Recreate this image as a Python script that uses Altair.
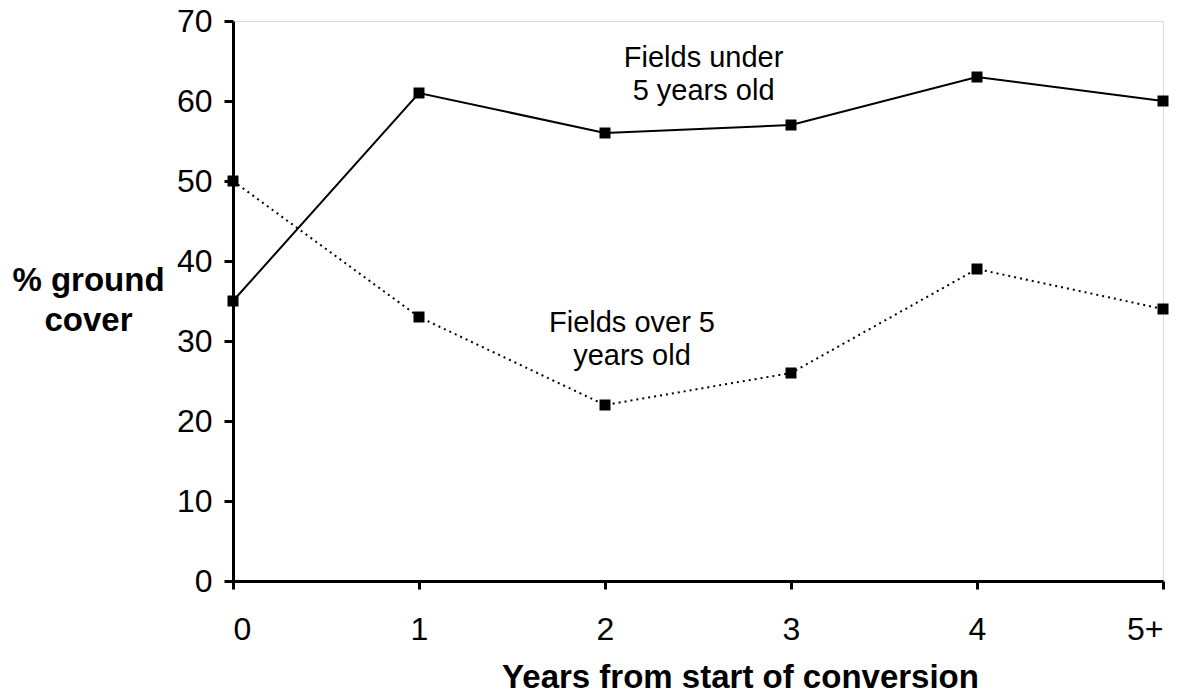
import altair as alt
import pandas as pd

# Data
year_labels = ["0", "1", "2", "3", "4", "5+"]
under_5 = [35, 61, 56, 57, 63, 60]   # Fields under 5 years old (solid)
over_5 = [50, 33, 22, 26, 39, 34]    # Fields over 5 years old (dotted)

# Annotation texts and their positions in data units
ann_text = ["Fields under\n5 years old", "Fields over 5\nyears old"]
ann_x = [2.53, 2.145]
ann_y = [64.2, 31.1]

FONT = "Liberation Sans"

idx = list(range(len(year_labels)))
df = pd.DataFrame({
    "idx": idx * 2,
    "year": year_labels * 2,
    "cover": under_5 + over_5,
    "series": ["under"] * len(idx) + ["over"] * len(idx),
})
ann = pd.DataFrame({"x": ann_x, "y": ann_y, "t": ann_text})

label_expr = "[" + ",".join("'%s'" % s for s in year_labels) + "][datum.value]"

x_enc = alt.X(
    "idx:Q",
    scale=alt.Scale(domain=[0, len(year_labels) - 1], nice=False, zero=False),
    axis=alt.Axis(
        values=idx,
        labelExpr=label_expr,
        title="Years from start of conversion",
        titleFontWeight="bold",
        titleFontSize=33,
        titleFont=FONT,
        titleX=507,
        titleY=106,
        titleAlign="center",
        titleBaseline="alphabetic",
        labelFontSize=32,
        labelFont=FONT,
        labelPadding=25,
        labelColor="black",
        titleColor="black",
        tickSize=8,
        tickWidth=3,
        tickColor="black",
        domainColor="black",
        domainWidth=3,
        grid=False,
    ),
)
y_enc = alt.Y(
    "cover:Q",
    scale=alt.Scale(domain=[0, 70], nice=False),
    axis=alt.Axis(
        values=[0, 10, 20, 30, 40, 50, 60, 70],
        title=["% ground", "cover"],
        titleAngle=0,
        titleFontWeight="bold",
        titleFontSize=33,
        titleFont=FONT,
        titleX=-145,
        titleY=269,
        titleAlign="center",
        titleBaseline="alphabetic",
        titleLineHeight=40,
        labelFontSize=32,
        labelFont=FONT,
        labelPadding=12,
        labelColor="black",
        titleColor="black",
        tickSize=9,
        tickWidth=3,
        tickColor="black",
        domainColor="black",
        domainWidth=3,
        grid=False,
    ),
)

solid = alt.Chart(df).transform_filter(alt.datum.series == "under").mark_line(
    color="black", strokeWidth=2
).encode(x=x_enc, y=y_enc, order="idx:Q")

dotted = alt.Chart(df).transform_filter(alt.datum.series == "over").mark_line(
    color="black", strokeWidth=2, strokeDash=[2, 4]
).encode(x=x_enc, y=y_enc, order="idx:Q")

points = alt.Chart(df).mark_point(
    shape="square", filled=True, color="black", size=121, opacity=1
).encode(x=x_enc, y=y_enc)

labels = alt.Chart(ann).mark_text(
    font=FONT, fontSize=29, align="center", baseline="alphabetic",
    lineBreak="\n", lineHeight=33, color="black"
).encode(x=alt.X("x:Q"), y=alt.Y("y:Q"), text="t:N")

chart = alt.layer(dotted, solid, points, labels).properties(
    width=930,
    height=560,
    autosize=alt.AutoSizeParams(type="none"),
    padding={"left": 225, "top": 13, "right": 20, "bottom": 122},
).configure_view(stroke=None).configure(background="white")

chart.save("out.html", embed_options={"renderer": "svg", "actions": False})
